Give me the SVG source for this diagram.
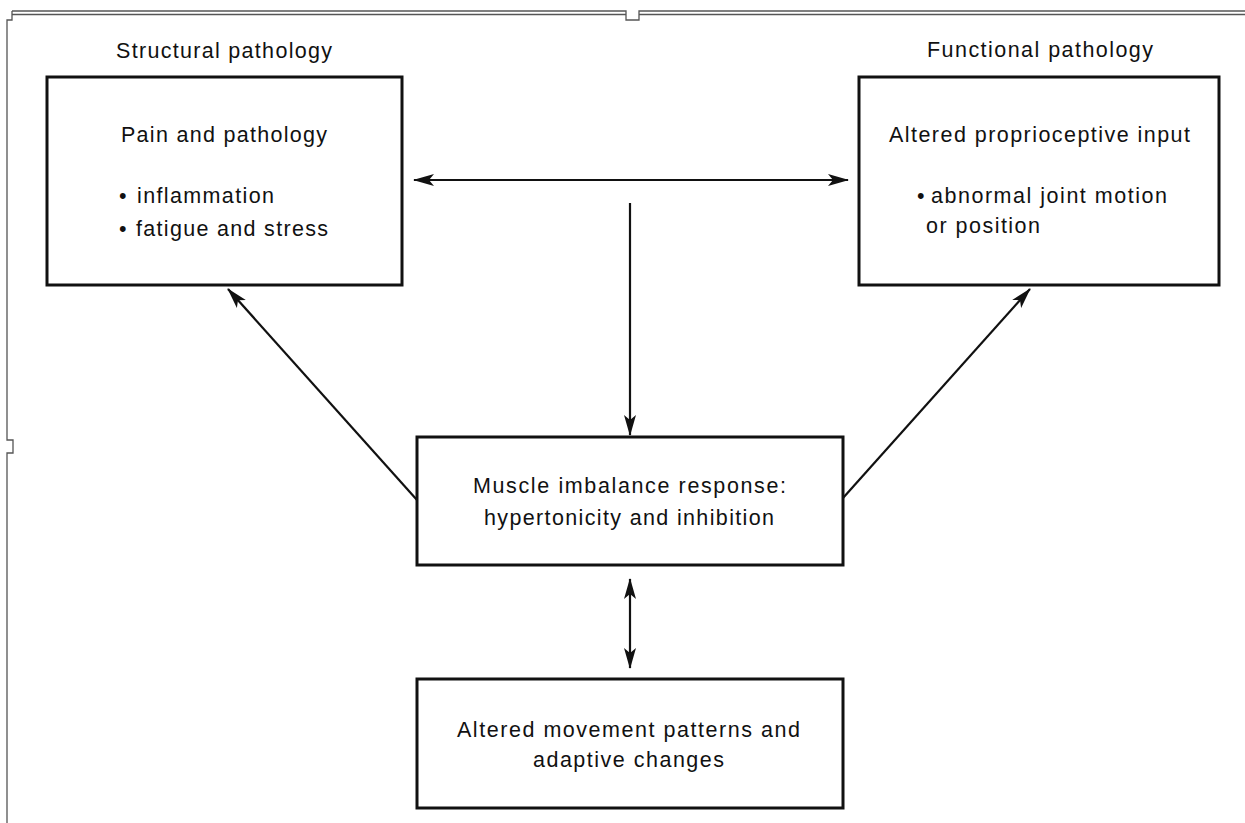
<svg xmlns="http://www.w3.org/2000/svg" width="1245" height="823" viewBox="0 0 1245 823">
<defs>
<style>
.box{fill:none;stroke:#111;stroke-width:3}
.ln{fill:none;stroke:#111;stroke-width:2.2}
.fr{fill:none;stroke:#555;stroke-width:1.3}
text{font-family:"Liberation Sans",Arial,sans-serif;font-size:21.5px;fill:#111}
</style>
<marker id="ah" markerUnits="userSpaceOnUse" markerWidth="22" markerHeight="14" refX="20" refY="7" orient="auto-start-reverse" viewBox="0 0 22 14">
<path d="M0,1 L21,7 L0,13 L5,7 z" fill="#111"/>
</marker>
</defs>
<rect width="1245" height="823" fill="#fff"/>
<g id="frame">
<path class="fr" d="M12,11 H626 V20 H639 V11 H1245"/>
<path class="fr" d="M12,14.5 H626 M639,14.5 H1245"/>
<path class="fr" d="M12,11 V20 H7 V440 H13 V453 H7 V823"/>
</g>
<g id="labels">
<text x="116" y="58" textLength="216" lengthAdjust="spacing">Structural pathology</text>
<text x="927" y="57" textLength="226" lengthAdjust="spacing">Functional pathology</text>
</g>
<g id="connectors">
<line class="ln" x1="630" y1="180" x2="414" y2="180" marker-end="url(#ah)"/>
<line class="ln" x1="630" y1="180" x2="848" y2="180" marker-end="url(#ah)"/>
<line class="ln" x1="630" y1="203" x2="630" y2="435" marker-end="url(#ah)"/>
<line class="ln" x1="417" y1="500" x2="228" y2="289" marker-end="url(#ah)"/>
<line class="ln" x1="843" y1="498" x2="1030" y2="289" marker-end="url(#ah)"/>
<line class="ln" x1="630" y1="579" x2="630" y2="668" marker-start="url(#ah)" marker-end="url(#ah)"/>
</g>
<g id="node-structural">
<rect class="box" x="47" y="77" width="355" height="208"/>
<text x="121" y="142" textLength="206" lengthAdjust="spacing">Pain and pathology</text>
<text x="119" y="203">•</text>
<text x="137" y="203" textLength="137" lengthAdjust="spacing">inflammation</text>
<text x="119" y="236">•</text>
<text x="136" y="236" textLength="192" lengthAdjust="spacing">fatigue and stress</text>
</g>
<g id="node-functional">
<rect class="box" x="859" y="77" width="360" height="208"/>
<text x="889" y="142" textLength="301" lengthAdjust="spacing">Altered proprioceptive input</text>
<text x="917" y="203">•</text>
<text x="931" y="203" textLength="236" lengthAdjust="spacing">abnormal joint motion</text>
<text x="926" y="233" textLength="114" lengthAdjust="spacing">or position</text>
</g>
<g id="node-muscle">
<rect class="box" x="417" y="437" width="426" height="128"/>
<text x="473" y="493" textLength="313" lengthAdjust="spacing">Muscle imbalance response:</text>
<text x="484" y="525" textLength="290" lengthAdjust="spacing">hypertonicity and inhibition</text>
</g>
<g id="node-movement">
<rect class="box" x="417" y="679" width="426" height="129"/>
<text x="457" y="737" textLength="343" lengthAdjust="spacing">Altered movement patterns and</text>
<text x="533" y="767" textLength="191" lengthAdjust="spacing">adaptive changes</text>
</g>
</svg>
